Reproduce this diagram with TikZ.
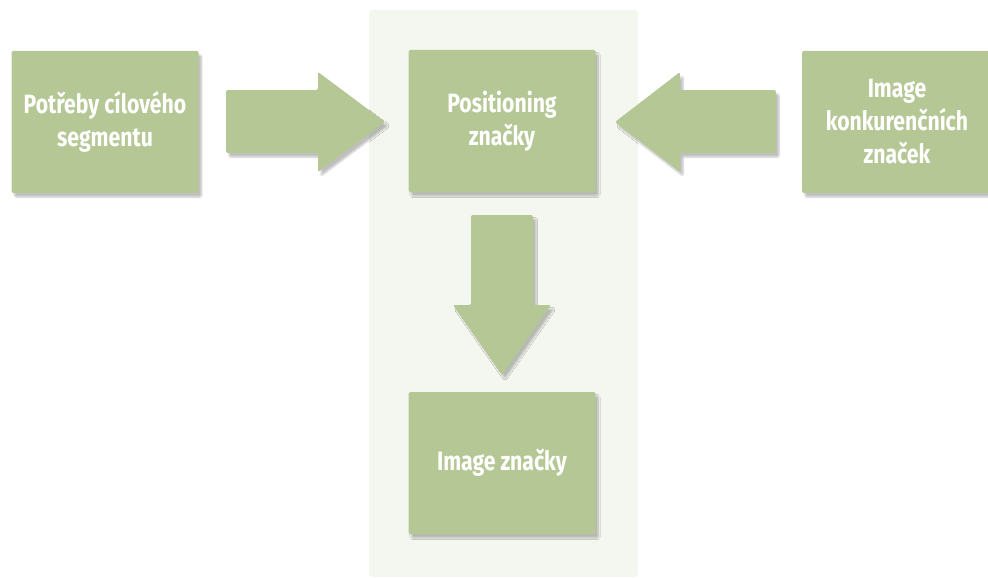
\documentclass[tikz,border=0pt]{standalone}
\usepackage{fontspec}
\newfontfamily\lblfont[FakeStretch=0.8]{Fira Sans}
\usetikzlibrary{shadows.blur}
\definecolor{boxgreen}{RGB}{182,199,150}
\definecolor{colbg}{RGB}{244,247,239}
\tikzset{
  gbox/.style={fill=boxgreen, draw=none, rounded corners=1.5pt, minimum width=187pt, minimum height=142pt,
    align=center, text=white, font=\lblfont\bfseries\fontsize{26.5}{33}\selectfont,
    blur shadow={shadow xshift=3pt, shadow yshift=-4pt, shadow blur steps=6, shadow opacity=25}},
  garrow/.style={fill=boxgreen, draw=none, rounded corners=2pt,
    blur shadow={shadow xshift=3pt, shadow yshift=-4pt, shadow blur steps=6, shadow opacity=25}}
}
\begin{document}
\begin{tikzpicture}[x=1pt,y=-1pt]
\useasboundingbox (0,0) rectangle (988,578);
\fill[colbg, rounded corners=3pt] (369,10) rectangle (638,577);
\node[gbox] (need) at (105,122) {Potřeby cílového\\segmentu};
\node[gbox] (pos) at (502,121) {Positioning\\značky};
\node[gbox] (img) at (502,463) {Image značky};
\node[gbox, minimum width=190pt] (comp) at (897,122) {Image\\konkurenčních\\značek};
% right arrow
\path[garrow] (226,90) -- (318,90) -- (318,72) -- (385,122) -- (318,172) -- (318,153) -- (226,153) -- cycle;
% left arrow
\path[garrow] (776,90) -- (680,90) -- (680,72) -- (615,122) -- (680,172) -- (680,153) -- (776,153) -- cycle;
% down arrow
\path[garrow] (471,215) -- (533,215) -- (533,305) -- (551,305) -- (502,375) -- (453,305) -- (471,305) -- cycle;
\end{tikzpicture}
\end{document}
